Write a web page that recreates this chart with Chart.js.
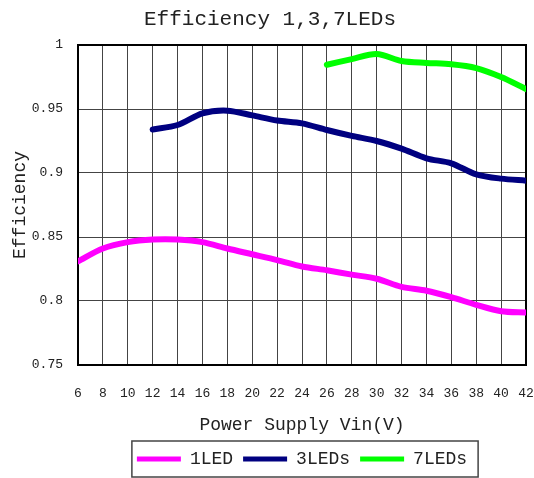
<!DOCTYPE html>
<html>
<head>
<meta charset="utf-8">
<script src="https://cdn.jsdelivr.net/npm/chart.js@4"></script>
<style>
  body { margin: 0; background: #fff; }
  #wrap { width: 534px; height: 478px; }
</style>
</head>
<body>
<div id="wrap"><canvas id="effChart"></canvas></div>
<script>
// x axis (Vin) for each series
const vin1 = [6, 8, 10, 12, 14, 16, 18, 20, 22, 24, 26, 28, 30, 32, 34, 36, 38, 40, 42];
const vin3 = [12, 14, 16, 18, 20, 22, 24, 26, 28, 30, 32, 34, 36, 38, 40, 42];
const vin7 = [26, 28, 30, 32, 34, 36, 38, 40, 42];

// efficiency
const eff1 = [0.831, 0.841, 0.846, 0.848, 0.848, 0.846, 0.841, 0.8365, 0.832, 0.827,
              0.824, 0.8206, 0.8174, 0.811, 0.808, 0.803, 0.797, 0.792, 0.791];
const eff3 = [0.934, 0.9375, 0.9466, 0.9487, 0.945, 0.941, 0.9388, 0.9336, 0.929, 0.925,
              0.919, 0.9115, 0.9076, 0.899, 0.8956, 0.894];
const eff7 = [0.9846, 0.989, 0.993, 0.9875, 0.986, 0.985, 0.982, 0.975, 0.9656];

const seriesNames = ['1LED', '3LEDs', '7LEDs'];
const seriesColors = ['#ff00ff', '#000080', '#00ff00'];

const xTicks = [6, 8, 10, 12, 14, 16, 18, 20, 22, 24, 26, 28, 30, 32, 34, 36, 38, 40, 42];
const yTicks = [0.75, 0.8, 0.85, 0.9, 0.95, 1];
const yTickLabels = ['0.75', '0.8', '0.85', '0.9', '0.95', '1'];

const FONT = "'Liberation Mono', 'DejaVu Sans Mono', monospace";

const toPoints = (xs, ys) => xs.map((x, i) => ({ x: x, y: ys[i] }));

// frame round the plot + border round the legend
const framePlugin = {
    id: 'frame',
    beforeDatasetsDraw(chart) {
        const { ctx, chartArea: a } = chart;
        ctx.save();
        ctx.strokeStyle = '#000';
        ctx.lineWidth = 2;
        ctx.strokeRect(a.left, a.top, a.right - a.left, a.bottom - a.top);
        ctx.restore();
    },
    afterDraw(chart) {
        const boxes = chart.legend && chart.legend.legendHitBoxes;
        if (!boxes || !boxes.length) return;
        const left = Math.min(...boxes.map(b => b.left)) - 5;
        const right = Math.max(...boxes.map(b => b.left + b.width)) + 11;
        const top = boxes[0].top - 9;
        const bottom = boxes[0].top + boxes[0].height + 9;
        const ctx = chart.ctx;
        ctx.save();
        ctx.strokeStyle = '#444';
        ctx.lineWidth = 1.5;
        ctx.strokeRect(left, top, right - left, bottom - top);
        ctx.restore();
    }
};

const makeSet = (i, xs, ys) => ({
    label: seriesNames[i],
    data: toPoints(xs, ys),
    borderColor: seriesColors[i],
    backgroundColor: seriesColors[i],
    borderWidth: 6,
    tension: 0.3,
    pointRadius: 0,
    borderCapStyle: 'round',
    borderJoinStyle: 'round',
    fill: false
});

new Chart(document.getElementById('effChart'), {
    type: 'line',
    data: {
        datasets: [
            makeSet(0, vin1, eff1),
            makeSet(1, vin3, eff3),
            makeSet(2, vin7, eff7)
        ]
    },
    plugins: [framePlugin],
    options: {
        responsive: true,
        maintainAspectRatio: false,
        animation: false,
        layout: { padding: { left: 14, right: 8, top: 0, bottom: 0 } },
        plugins: {
            title: {
                display: true,
                text: 'Efficiency 1,3,7LEDs',
                color: '#222',
                font: { family: FONT, size: 21, weight: 'normal' },
                padding: { top: 7, bottom: 12.8 }
            },
            legend: {
                position: 'bottom',
                fullSize: false,
                labels: {
                    color: '#222',
                    font: { family: FONT, size: 18 },
                    boxWidth: 44,
                    boxHeight: 5,
                    padding: 10,
                    useBorderRadius: true,
                    borderRadius: 2.5,
                    generateLabels: (chart) => chart.data.datasets.map((ds, i) => ({
                        text: ds.label,
                        fillStyle: ds.borderColor,
                        strokeStyle: ds.borderColor,
                        lineWidth: 0,
                        fontColor: '#222',
                        datasetIndex: i,
                        hidden: false
                    }))
                }
            },
            tooltip: { enabled: false }
        },
        scales: {
            x: {
                type: 'linear',
                min: 6,
                max: 42,
                afterBuildTicks: (s) => { s.ticks = xTicks.map(v => ({ value: v })); },
                afterFit: (s) => { s.height = 75; },
                grid: { color: '#444', lineWidth: 1, drawTicks: true, tickLength: 21, tickColor: 'rgba(0,0,0,0)' },
                border: { color: '#000', width: 2 },
                ticks: {
                    color: '#222',
                    padding: 0,
                    maxRotation: 0,
                    autoSkip: false,
                    font: { family: FONT, size: 13 }
                },
                title: {
                    display: true,
                    text: 'Power Supply Vin(V)',
                    color: '#222',
                    font: { family: FONT, size: 18 },
                    padding: { top: 0, bottom: 4 }
                }
            },
            y: {
                min: 0.75,
                max: 1,
                afterBuildTicks: (s) => { s.ticks = yTicks.map(v => ({ value: v })); },
                afterFit: (s) => { s.width = 64; },
                grid: { color: '#444', lineWidth: 1, drawTicks: false },
                border: { color: '#000', width: 2 },
                ticks: {
                    color: '#222',
                    padding: 15,
                    font: { family: FONT, size: 13 },
                    callback: (v) => {
                        const k = yTicks.findIndex(t => Math.abs(t - v) < 1e-6);
                        return k >= 0 ? yTickLabels[k] : '';
                    }
                },
                title: {
                    display: true,
                    text: 'Efficiency',
                    color: '#222',
                    font: { family: FONT, size: 18 },
                    padding: { top: -5, bottom: 0 }
                }
            }
        }
    }
});
</script>
</body>
</html>
